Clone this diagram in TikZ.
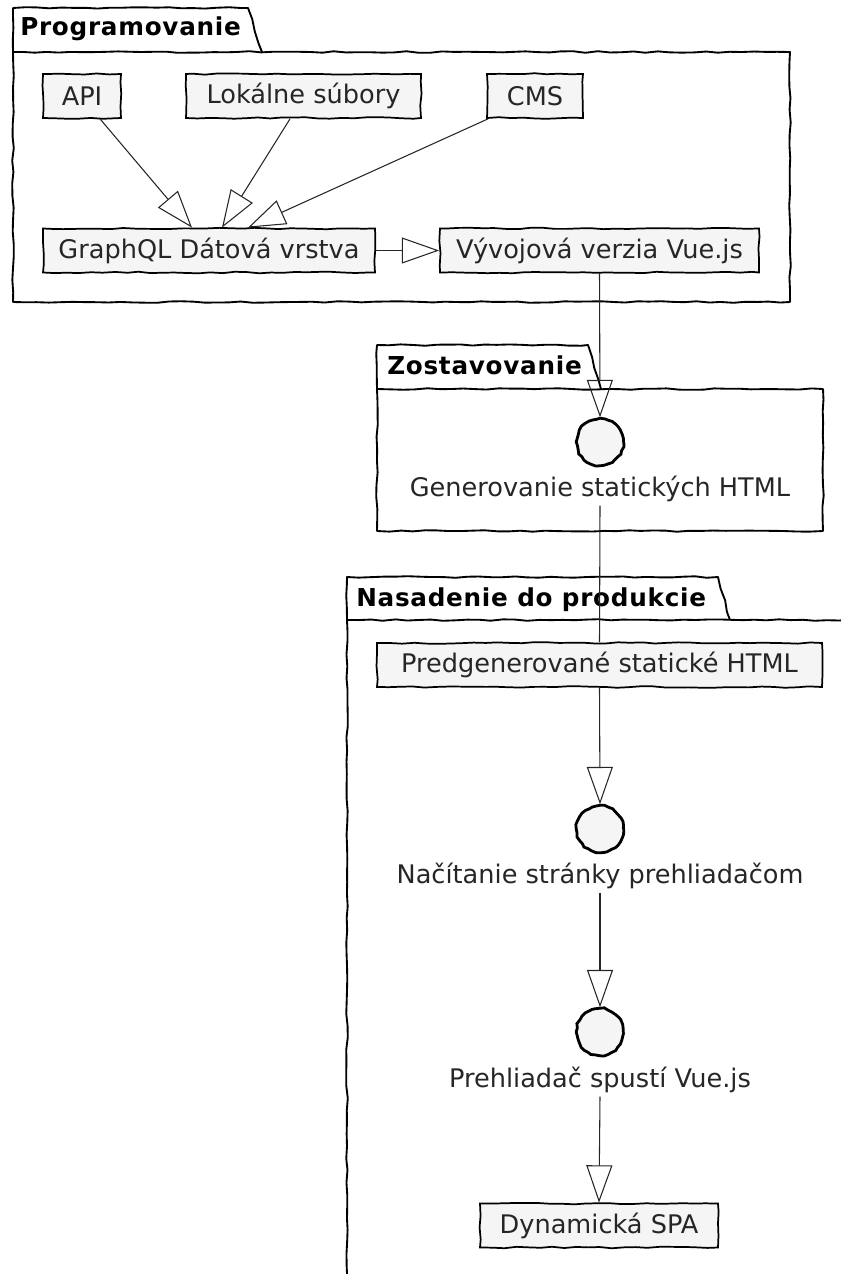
\documentclass[tikz,border=0pt]{standalone}
\usepackage{fontspec}
\setmainfont{DejaVu Sans}
\newfontfamily\titlefont{DejaVu Sans}[LetterSpace=3]
\usetikzlibrary{arrows.meta,decorations.pathmorphing,calc}
\definecolor{boxfill}{HTML}{F5F5F5}
\definecolor{ink}{HTML}{262626}
\pgfmathsetseed{7}
\tikzset{
  hand/.style={decorate, decoration={random steps, segment length=9pt, amplitude=0.6pt}},
  pkg/.style={draw=black, line width=1.4pt, line join=round, hand},
  comp/.style={draw=black, fill=boxfill, line width=1.3pt, hand, minimum height=33pt,
    inner sep=0pt, font=\fontsize{19.2}{23}\selectfont, text=ink},
  act/.style={circle, draw=black, fill=boxfill, line width=2.1pt, minimum size=35pt, inner sep=0pt,
    decorate, decoration={random steps, segment length=3pt, amplitude=0.6pt}},
  lbl/.style={font=\fontsize{19.2}{23}\selectfont, text=ink, inner sep=3pt, anchor=base},
  pkgtitle/.style={font=\titlefont\bfseries\fontsize{18.5}{22}\selectfont, anchor=base west, inner sep=0pt},
  arr/.style={draw=ink, line width=0.8pt, -{Triangle[open, length=28pt, width=19.5pt, line width=0.8pt]}},
  plain/.style={draw=ink, line width=0.8pt},
}
\begin{document}
\begin{tikzpicture}[x=0.75pt,y=-0.75pt]
\useasboundingbox (0,0) rectangle (841,1274);
\clip (0,0) rectangle (841,1274);
% packages
\draw[pkg] (13,52) -- (13,8) -- (248,8) -- (262,52);
\draw[pkg] (13,52) rectangle (790,302);
\node[pkgtitle] (pprog) at (20,35) {Programovanie};
\draw[pkg] (377,389) -- (377,345) -- (588,345) -- (601,389);
\draw[pkg] (377,389) rectangle (823,531);
\node[pkgtitle] (pbuild) at (387,374) {Zostavovanie};
\draw[pkg] (347,620) -- (347,577) -- (718,577) -- (730,620);
\draw[pkg] (347,1290) -- (347,620) -- (860,620);
\node[pkgtitle] (pdeploy) at (356,606) {Nasadenie do produkcie};
% components
\node[comp, minimum width=58.5pt] (api) at (82,96) {API};
\node[comp, minimum width=176.25pt] (lok) at (303.5,96) {Lokálne súbory};
\node[comp, minimum width=72pt] (cms) at (535,96) {CMS};
\node[comp, minimum width=249pt] (gql) at (209,250.5) {GraphQL Dátová vrstva};
\node[comp, minimum width=239.25pt] (vue) at (599.5,250.5) {Vývojová verzia Vue.js};
\node[comp, minimum width=333.75pt] (pred) at (599.5,665) {Predgenerované statické HTML};
\node[comp, minimum width=178.5pt] (spa) at (599,1225.5) {Dynamická SPA};
% activities
\node[act] (c1) at (600,442) {};
\node[lbl] (t1) at (600,496) {Generovanie statických HTML};
\node[act] (c2) at (600,829) {};
\node[lbl] (t2) at (600,883) {Načítanie stránky prehliadačom};
\node[act] (c3) at (600,1032) {};
\node[lbl] (t3) at (600,1087) {Prehliadač spustí Vue.js};
% connectors
\draw[arr] ($(api.south)+(18,0)$) -- ($(gql.north)+(-17,0)$);
\draw[arr] ($(lok.south)+(-13.5,0)$) -- ($(gql.north)+(13,0)$);
\draw[arr] ($(cms.south)+(-47,0)$) -- ($(gql.north)+(39,0)$);
\draw[arr] (gql.east) -- (vue.west);
\draw[arr] (vue.south) -- (c1.north);
\draw[plain] (t1.south) -- (pred.north);
\draw[arr] (pred.south) -- (c2.north);
\draw[arr] (t2.south) -- (c3.north);
\draw[arr] (t3.south) -- (spa.north);
\end{tikzpicture}
\end{document}
